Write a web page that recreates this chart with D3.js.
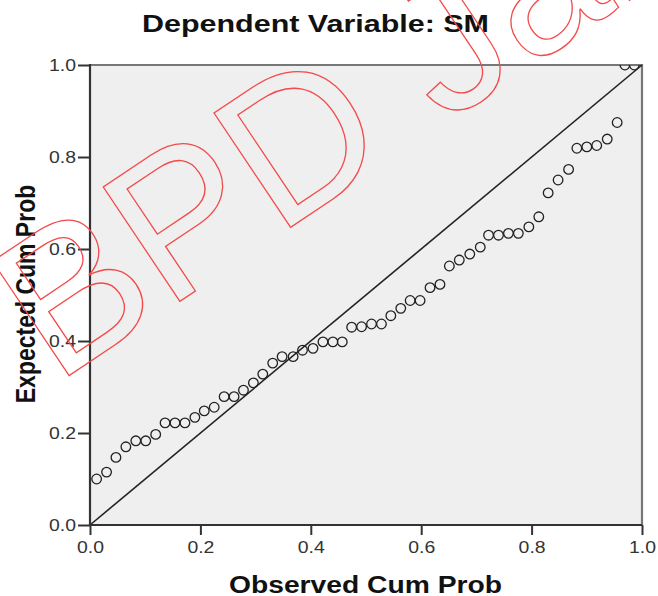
<!DOCTYPE html>
<html>
<head>
<meta charset="utf-8">
<script src="https://cdn.jsdelivr.net/npm/d3@7"></script>
<style>
  html, body { margin: 0; padding: 0; background: #fff; }
  svg { display: block; }
</style>
</head>
<body>
<svg id="chart" width="658" height="596"></svg>
<script>
// ---- data ----
const titleText = "Dependent Variable: SM";
const xLabel = "Observed Cum Prob";
const yLabel = "Expected Cum Prob";
const watermarkText = "BPD Jabar";
const tickValues = [0, 0.2, 0.4, 0.6, 0.8, 1.0];
const tickLabels = ["0.0", "0.2", "0.4", "0.6", "0.8", "1.0"];

const observed = [
  0.012, 0.030, 0.047, 0.065, 0.083, 0.101, 0.119, 0.136, 0.154, 0.172,
  0.190, 0.207, 0.225, 0.243, 0.261, 0.278, 0.296, 0.313, 0.331, 0.348,
  0.368, 0.385, 0.404, 0.422, 0.440, 0.457, 0.474, 0.492, 0.510, 0.528,
  0.545, 0.563, 0.580, 0.598, 0.616, 0.634, 0.651, 0.669, 0.688, 0.707,
  0.722, 0.740, 0.758, 0.776, 0.795, 0.813, 0.830, 0.848, 0.867, 0.882,
  0.900, 0.918, 0.937, 0.955, 0.969, 0.986
];
const expected = [
  0.100, 0.115, 0.147, 0.170, 0.183, 0.183, 0.197, 0.222, 0.222, 0.222,
  0.234, 0.248, 0.256, 0.279, 0.279, 0.293, 0.309, 0.328, 0.352, 0.366,
  0.366, 0.380, 0.384, 0.398, 0.398, 0.398, 0.430, 0.431, 0.437, 0.437,
  0.455, 0.471, 0.488, 0.488, 0.516, 0.523, 0.563, 0.576, 0.589, 0.604,
  0.630, 0.630, 0.634, 0.634, 0.648, 0.670, 0.722, 0.750, 0.773, 0.819,
  0.822, 0.825, 0.839, 0.875, 1.000, 1.000
];
const refLine = [[0, 0], [1, 1]];

// ---- layout ----
const svg = d3.select("#chart");
const L = 90, R = 642, T = 65, B = 525;
const x = d3.scaleLinear().domain([0, 1]).range([L, R]);
const y = d3.scaleLinear().domain([0, 1]).range([B, T]);
const font = "'Liberation Sans', Arial, sans-serif";

// title
svg.append("text")
  .attr("x", 142).attr("y", 31.5)
  .attr("textLength", 347).attr("lengthAdjust", "spacingAndGlyphs")
  .style("font-family", font).style("font-weight", "bold").style("font-size", "24px")
  .attr("fill", "#111")
  .text(titleText);

// plot background
svg.append("rect")
  .attr("x", L).attr("y", T).attr("width", R - L).attr("height", B - T)
  .attr("fill", "#efefef");

svg.append("defs").append("clipPath").attr("id", "plotclip")
  .append("rect").attr("x", L).attr("y", T).attr("width", R - L).attr("height", B - T);

// frame (top & right grey)
svg.append("path")
  .attr("d", `M${L},${T}H${R}V${B}`)
  .attr("fill", "none").attr("stroke", "#777").attr("stroke-width", 2.2);

// reference line
svg.append("path")
  .datum(refLine)
  .attr("d", d3.line().x(d => x(d[0])).y(d => y(d[1])))
  .attr("fill", "none").attr("stroke", "#222").attr("stroke-width", 1.6);

// points
svg.append("g").attr("clip-path", "url(#plotclip)")
  .selectAll("circle")
  .data(observed.map((o, i) => [o, expected[i]]))
  .join("circle")
  .attr("cx", d => x(d[0])).attr("cy", d => y(d[1]))
  .attr("r", 4.8)
  .attr("fill", "none").attr("stroke", "#222").attr("stroke-width", 1.3);

// axes
const fmt = (d) => tickLabels[tickValues.findIndex(v => Math.abs(v - d) < 1e-9)];
const xAxis = svg.append("g").attr("transform", `translate(0,${B})`)
  .call(d3.axisBottom(x).tickValues(tickValues).tickFormat(fmt).tickSize(10).tickSizeOuter(0));
const yAxis = svg.append("g").attr("transform", `translate(${L},0)`)
  .call(d3.axisLeft(y).tickValues(tickValues).tickFormat(fmt).tickSize(12).tickSizeOuter(0));

[xAxis, yAxis].forEach(g => {
  g.select(".domain").attr("stroke", "#333").attr("stroke-width", 2.2);
  g.selectAll(".tick line").attr("stroke", "#333").attr("stroke-width", 2);
  g.selectAll(".tick text")
    .attr("fill", "#333")
    .style("font-family", font).style("font-size", "16px")
    .attr("textLength", 27).attr("lengthAdjust", "spacingAndGlyphs");
});
xAxis.selectAll(".tick text").attr("y", 28).attr("dy", 0);
yAxis.selectAll(".tick text").attr("x", -14).attr("dy", "0.36em");
xAxis.select(".domain").attr("d", `M${L - 1},0H${R}`);
yAxis.select(".domain").attr("d", `M0,${T - 1}V${B + 1}`);

// axis titles
svg.append("text")
  .attr("x", 229).attr("y", 592.5)
  .attr("textLength", 273).attr("lengthAdjust", "spacingAndGlyphs")
  .style("font-family", font).style("font-weight", "bold").style("font-size", "23px")
  .attr("fill", "#111")
  .text(xLabel);

svg.append("text")
  .attr("transform", "translate(35,294) scale(1.2,1) rotate(-90)")
  .attr("text-anchor", "middle")
  .style("font-family", font).style("font-weight", "bold").style("font-size", "23px")
  .attr("fill", "#111")
  .text(yLabel);

// watermark (outlined red text)
svg.append("text")
  .attr("transform", "translate(55.4,384.8) rotate(-33.8)")
  .style("font-family", font).style("font-size", "200px")
  .attr("fill", "none").attr("stroke", "#f34a4a").attr("stroke-width", 1.3)
  .text(watermarkText);
</script>
</body>
</html>
